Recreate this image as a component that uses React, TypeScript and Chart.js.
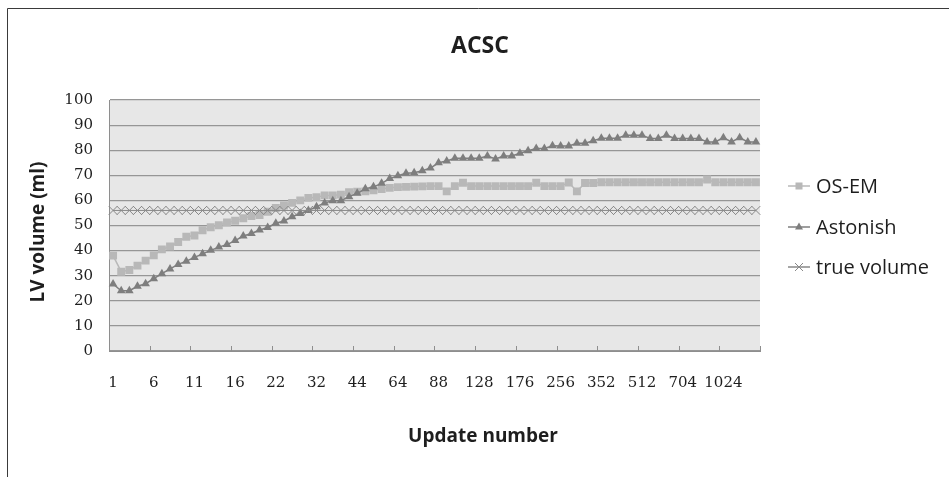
import React, { useEffect, useRef } from 'react';
import { Chart, registerables } from 'chart.js';

Chart.register(...registerables);

const categories = [
  '1', '2', '3', '4', '5', '6', '7', '8', '9', '10', '11', '12', '13', '14', '15', '16',
  '17', '18', '19', '20', '22', '24', '26', '28', '30',
  '32', '34', '36', '38', '40', '44', '48', '52', '56', '60',
  '64', '68', '72', '76', '80', '88', '96', '104', '112', '120',
  '128', '136', '144', '152', '160', '176', '192', '208', '224', '240',
  '256', '272', '288', '304', '320', '352', '384', '416', '448', '480',
  '512', '544', '576', '608', '640', '704', '768', '832', '896', '960',
  '1024', '1088', '1152', '1216', '1280',
];

const xTickLabels = ['1', '6', '11', '16', '22', '32', '44', '64', '88', '128', '176', '256', '352', '512', '704', '1024'];
const yTicks = [0, 10, 20, 30, 40, 50, 60, 70, 80, 90, 100];

const osem = [
  38, 31.6, 32.3, 34, 36, 38.1, 40.5, 41.6, 43.4, 45.5,
  46, 48.1, 49.3, 50.1, 51.2, 51.9, 52.9, 53.8, 54.2, 55.5,
  57, 58, 59, 60, 61, 61.3, 62, 62, 62.3, 63.3,
  63.5, 63.6, 64, 64.5, 65, 65.3, 65.4, 65.5, 65.6, 65.7,
  65.7, 63.6, 65.7, 67, 65.7, 65.7, 65.7, 65.7, 65.7, 65.7,
  65.7, 65.7, 67, 65.7, 65.7, 65.7, 67.1, 63.6, 66.9, 66.9,
  67.2, 67.2, 67.2, 67.2, 67.2, 67.2, 67.2, 67.2, 67.2, 67.2,
  67.2, 67.2, 67.2, 68.3, 67.2, 67.2, 67.2, 67.2, 67.2, 67.2,
];

const astonish = [
  26.7, 24, 24, 25.8, 26.8, 28.8, 30.8, 32.7, 34.5, 35.8,
  37.3, 38.7, 40.1, 41.4, 42.4, 44, 45.8, 46.8, 48.2, 49.2,
  50.9, 51.8, 53.5, 54.8, 56, 57.5, 59, 59.9, 59.9, 61.5,
  62.8, 64.6, 65.4, 66.8, 68.7, 69.8, 70.8, 71, 71.8, 72.9,
  75, 75.7, 76.8, 76.8, 76.8, 76.8, 77.7, 76.5, 77.7, 77.7,
  78.8, 79.8, 80.7, 80.7, 81.8, 81.7, 81.7, 82.8, 82.8, 83.8,
  84.8, 84.8, 84.8, 86, 86, 86, 84.7, 84.7, 86, 84.7,
  84.7, 84.7, 84.7, 83.3, 83.3, 85, 83.3, 85, 83.3, 83.3,
];

const trueVolume = [
  56, 56, 56, 56, 56, 56, 56, 56, 56, 56,
  56, 56, 56, 56, 56, 56, 56, 56, 56, 56,
  56, 56, 56, 56, 56, 56, 56, 56, 56, 56,
  56, 56, 56, 56, 56, 56, 56, 56, 56, 56,
  56, 56, 56, 56, 56, 56, 56, 56, 56, 56,
  56, 56, 56, 56, 56, 56, 56, 56, 56, 56,
  56, 56, 56, 56, 56, 56, 56, 56, 56, 56,
  56, 56, 56, 56, 56, 56, 56, 56, 56, 56,
];

const seriesNames = ['OS-EM', 'Astonish', 'true volume'];

const W = 949;
const H = 477;

const C_OSEM = '#b8b8b8';
const C_AST = '#7e7e7e';
const C_TRUE = '#888888';
const AXIS = '#8e8e8e';
const TEXT = '#1e1e1e';

function drawMarker(ctx: CanvasRenderingContext2D, style: string, x: number, y: number, color: string) {
  ctx.save();
  ctx.fillStyle = color;
  ctx.strokeStyle = color;
  ctx.lineWidth = 1;
  if (style === 'rect') {
    ctx.fillRect(x - 3.5, y - 3.5, 7, 7);
  } else if (style === 'triangle') {
    ctx.beginPath();
    ctx.moveTo(x, y - 4.5);
    ctx.lineTo(x + 4, y + 2.5);
    ctx.lineTo(x - 4, y + 2.5);
    ctx.closePath();
    ctx.fill();
  } else {
    ctx.beginPath();
    ctx.moveTo(x - 4, y - 4);
    ctx.lineTo(x + 4, y + 4);
    ctx.moveTo(x + 4, y - 4);
    ctx.lineTo(x - 4, y + 4);
    ctx.stroke();
  }
  ctx.restore();
}

const decor = {
  id: 'decor',
  beforeDraw(chart: any) {
    const { ctx, chartArea: a } = chart;
    ctx.save();
    ctx.fillStyle = '#ffffff';
    ctx.fillRect(0, 0, chart.width, chart.height);
    ctx.fillStyle = '#e7e7e7';
    ctx.fillRect(a.left, a.top, a.right - a.left, a.bottom - a.top);
    ctx.restore();
  },
  afterDraw(chart: any) {
    const { ctx, chartArea: a } = chart;
    const xs = chart.scales.x;
    ctx.save();

    // inside tick marks every 5 categories
    const half = (xs.getPixelForValue(1) - xs.getPixelForValue(0)) / 2;
    ctx.strokeStyle = AXIS;
    ctx.lineWidth = 1;
    for (let i = 0; i <= categories.length; i += 5) {
      const px = Math.round(xs.getPixelForValue(i) - half) + 0.5;
      ctx.beginPath();
      ctx.moveTo(px, a.bottom - 5);
      ctx.lineTo(px, a.bottom);
      ctx.stroke();
    }

    // chart title
    ctx.fillStyle = TEXT;
    ctx.textAlign = 'center';
    ctx.textBaseline = 'middle';
    ctx.font = 'bold 23px "Open Sans"';
    ctx.fillText('ACSC', 480, 46);

    // axis titles
    ctx.font = 'bold 19px "Open Sans"';
    ctx.fillText('Update number', 483, 437);
    ctx.save();
    ctx.translate(39, 232);
    ctx.rotate(-Math.PI / 2);
    ctx.fillText('LV volume (ml)', 0, 0);
    ctx.restore();

    // legend
    const styles = ['rect', 'triangle', 'crossRot'];
    const colors = [C_OSEM, C_AST, C_TRUE];
    const ys = [186, 227, 267];
    ctx.font = '20px "Open Sans"';
    ctx.textAlign = 'left';
    for (let k = 0; k < seriesNames.length; k++) {
      const y = ys[k];
      ctx.strokeStyle = colors[k];
      ctx.lineWidth = 1.5;
      ctx.beginPath();
      ctx.moveTo(788, y);
      ctx.lineTo(810, y);
      ctx.stroke();
      drawMarker(ctx, styles[k], 799, y, colors[k]);
      ctx.fillStyle = TEXT;
      ctx.fillText(seriesNames[k], 816, y + 1);
    }

    // outer frame (cropped)
    ctx.strokeStyle = '#3a3a3a';
    ctx.lineWidth = 1;
    ctx.beginPath();
    ctx.moveTo(7.5, H);
    ctx.lineTo(7.5, 8.5);
    ctx.lineTo(W, 8.5);
    ctx.stroke();

    ctx.restore();
  },
};

export default function App() {
  const ref = useRef<HTMLCanvasElement | null>(null);

  useEffect(() => {
    if (!ref.current) return;
    const chart = new Chart(ref.current, {
      type: 'line',
      data: {
        labels: categories,
        datasets: [
          {
            label: seriesNames[0],
            data: osem,
            order: 3,
            borderColor: C_OSEM,
            borderWidth: 1.5,
            pointStyle: 'rect',
            pointRadius: 5.6,
            pointBackgroundColor: C_OSEM,
            pointBorderColor: C_OSEM,
            pointBorderWidth: 0,
            tension: 0,
          },
          {
            label: seriesNames[1],
            data: astonish,
            order: 2,
            borderColor: C_AST,
            borderWidth: 1.5,
            pointStyle: 'triangle',
            pointRadius: 5,
            pointBackgroundColor: C_AST,
            pointBorderColor: C_AST,
            pointBorderWidth: 0,
            tension: 0,
          },
          {
            label: seriesNames[2],
            data: trueVolume,
            order: 1,
            borderColor: C_TRUE,
            borderWidth: 1,
            pointStyle: 'crossRot',
            pointRadius: 6.2,
            pointBackgroundColor: C_TRUE,
            pointBorderColor: C_TRUE,
            pointBorderWidth: 1,
            tension: 0,
          },
        ],
      },
      options: {
        responsive: false,
        animation: false,
        devicePixelRatio: 1,
        layout: { padding: { top: 100, right: W - 760, bottom: 0, left: 0 } },
        plugins: {
          legend: { display: false },
          title: { display: false },
          tooltip: { enabled: false },
        },
        scales: {
          x: {
            type: 'category',
            offset: true,
            grid: { display: false, drawOnChartArea: false, drawTicks: false },
            border: { display: true, color: AXIS, width: 1 },
            ticks: {
              autoSkip: false,
              maxRotation: 0,
              minRotation: 0,
              padding: 23,
              color: TEXT,
              font: { family: 'DejaVu Serif', size: 15 },
              callback: (_v: any, i: number) => (xTickLabels.includes(categories[i]) ? categories[i] : ''),
            },
            afterFit: (s: any) => {
              s.height = H - 351;
            },
          },
          y: {
            min: yTicks[0],
            max: yTicks[yTicks.length - 1],
            afterBuildTicks: (s: any) => {
              s.ticks = yTicks.map((v) => ({ value: v }));
            },
            grid: { color: '#969696', lineWidth: 1.2, drawTicks: false },
            border: { display: true, color: AXIS, width: 1 },
            ticks: {
              padding: 16,
              color: TEXT,
              font: { family: 'DejaVu Serif', size: 15 },
            },
            afterFit: (s: any) => {
              s.width = 109;
            },
          },
        },
      },
      plugins: [decor],
    });
    return () => chart.destroy();
  }, []);

  return (
    <div style={{ position: 'absolute', left: 0, top: 0, width: W, height: H, background: '#fff' }}>
      <canvas ref={ref} width={W} height={H} style={{ display: 'block', width: W, height: H }} />
    </div>
  );
}
